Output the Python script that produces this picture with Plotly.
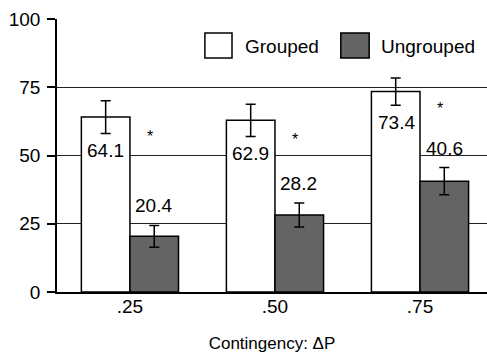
import plotly.graph_objects as go

categories = [".25", ".50", ".75"]
grouped = [64.1, 62.9, 73.4]
grouped_err = [6.0, 5.9, 5.0]
ungrouped = [20.4, 28.2, 40.6]
ungrouped_err = [4.0, 4.4, 5.0]
y_ticks = [0, 25, 50, 75, 100]

FONT = "Liberation Sans, Arial, sans-serif"
GRAY = "#646464"

fig = go.Figure()
fig.add_trace(go.Bar(
    x=categories, y=grouped, name="Grouped",
    marker=dict(color="white", line=dict(color="black", width=1.5)),
    error_y=dict(type="data", array=grouped_err, color="black", thickness=1.5, width=5),
))
fig.add_trace(go.Bar(
    x=categories, y=ungrouped, name="Ungrouped",
    marker=dict(color=GRAY, line=dict(color="black", width=1.5)),
    error_y=dict(type="data", array=ungrouped_err, color="black", thickness=1.5, width=5),
))

ann = []
for i, (v, e) in enumerate(zip(grouped, grouped_err)):
    ann.append(dict(x=i, y=v - e, text=f"{v:.1f}", showarrow=False, xshift=-24,
                    yanchor="top", yshift=-5, font=dict(size=19, color="black", family=FONT)))
    ann.append(dict(x=i, y=v - e, text="*", showarrow=False, xshift=20,
                    yanchor="middle", yshift=-3, font=dict(size=16, color="black", family=FONT)))
for i, (v, e) in enumerate(zip(ungrouped, ungrouped_err)):
    ann.append(dict(x=i, y=v + e, text=f"{v:.1f}", showarrow=False, xshift=24,
                    yanchor="bottom", yshift=7, font=dict(size=19, color="black", family=FONT)))

# manual legend
ann.append(dict(xref="paper", yref="paper", x=0.4326, y=0.901, xanchor="left", yanchor="middle",
                text="Grouped", showarrow=False, font=dict(size=19, color="black", family=FONT)))
ann.append(dict(xref="paper", yref="paper", x=0.7488, y=0.901, xanchor="left", yanchor="middle",
                text="Ungrouped", showarrow=False, font=dict(size=19, color="black", family=FONT)))
shapes = [
    dict(type="rect", xref="paper", yref="paper", x0=0.344, x1=0.407, y0=0.857, y1=0.949,
         fillcolor="white", line=dict(color="black", width=1.5)),
    dict(type="rect", xref="paper", yref="paper", x0=0.660, x1=0.726, y0=0.857, y1=0.949,
         fillcolor=GRAY, line=dict(color="black", width=1.5)),
]

fig.update_layout(
    width=487, height=356,
    margin=dict(l=57, r=0, t=19, b=64),
    paper_bgcolor="white", plot_bgcolor="white",
    barmode="group", bargap=0.33, bargroupgap=0,
    showlegend=False,
    font=dict(family=FONT, color="black", size=19),
    annotations=ann, shapes=shapes,
    xaxis=dict(type="category", range=[-0.503, 2.462], showline=True, linecolor="black",
               linewidth=1.5, ticks="", showgrid=False, automargin=False,
               ticklabelstandoff=-4,
               tickfont=dict(size=19, family=FONT, color="black"),
               title=dict(text="Contingency: ΔP", font=dict(size=17, family=FONT, color="black"),
                          standoff=22)),
    yaxis=dict(range=[0, 100], tickvals=y_ticks, showline=True, linecolor="black", linewidth=1.5,
               ticks="outside", ticklen=8, tickwidth=1.5, tickcolor="black", automargin=False,
               ticklabelstandoff=3,
               showgrid=True, gridcolor="#222222", gridwidth=1.3, zeroline=False,
               tickfont=dict(size=19, family=FONT, color="black")),
)

fig.write_html("out.html", config={"displayModeBar": False},
               post_script="document.body.style.margin='0';document.body.style.overflow='hidden';")
